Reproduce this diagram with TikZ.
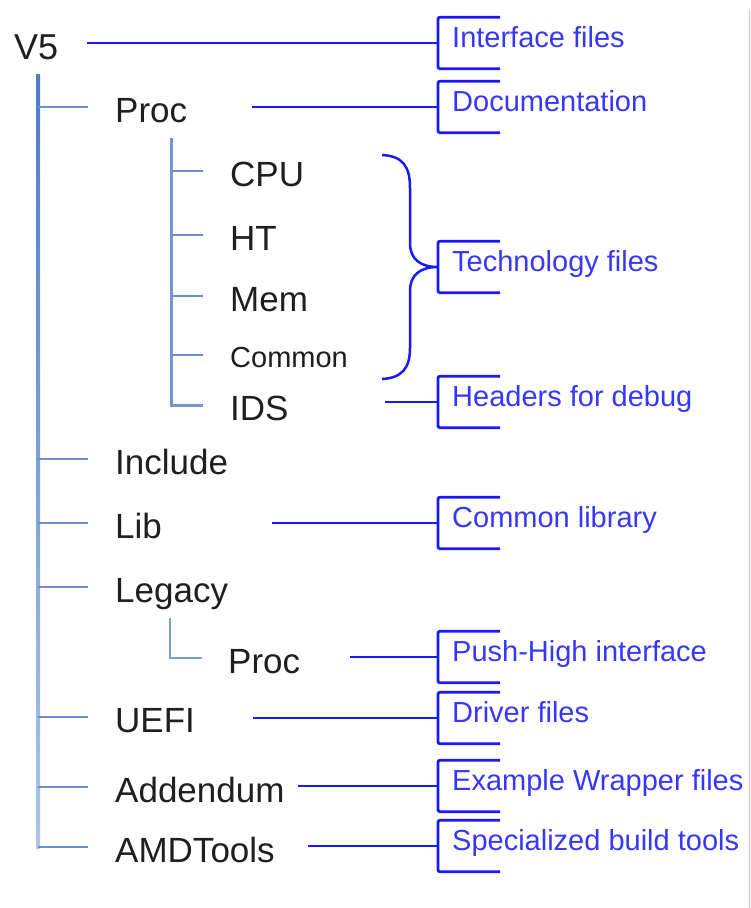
\documentclass[tikz,border=0pt]{standalone}
\usepackage{fontspec}
\setmainfont{Liberation Sans}

\definecolor{treeblue}{RGB}{78,124,200}
\definecolor{linkblue}{RGB}{25,25,255}
\definecolor{notetext}{RGB}{55,55,250}

\tikzset{
  item/.style={anchor=west, inner sep=0pt, text height=31pt, text depth=0pt,
    text=black!88, font=\fontsize{35}{40}\selectfont},
  small item/.style={item, text height=25pt, font=\fontsize{29}{34}\selectfont},
  note/.style={anchor=west, inner xsep=14pt, inner ysep=0pt, text height=30pt,
    text depth=21pt, text=notetext, font=\fontsize{29}{34}\selectfont},
  twig/.style={treeblue!85, line width=2.5pt},
  link/.style={linkblue, line width=2.5pt},
  bracket/.style={linkblue, line width=2.8pt, rounded corners=2pt},
}

\begin{document}
\begin{tikzpicture}[x=1pt,y=-1pt]
\useasboundingbox (0,0) rectangle (751,908);
%% frame edge
\draw[gray!45, line width=1pt] (749.5,10) -- (749.5,908);

%% folders
\node[item, text height=32pt, font=\fontsize{36}{40}\selectfont] (v5) at (14,43) {V5};
\node[item] (proc) at (115,107) {Proc};
\node[item] (cpu) at (230,171) {CPU};
\node[item] (ht) at (230,235) {HT};
\node[item] (mem) at (230,296) {Mem};
\node[small item] (common) at (230,355) {Common};
\node[item] (ids) at (230,405) {IDS};
\node[item] (include) at (115,459) {Include};
\node[item] (lib) at (115,523) {Lib};
\node[item] (legacy) at (115,587) {Legacy};
\node[item] (lproc) at (228,658) {Proc};
\node[item] (uefi) at (115,717) {UEFI};
\node[item] (addendum) at (115,787) {Addendum};
\node[item] (amdtools) at (115,847) {AMDTools};

%% tree lines
\coordinate (trunk) at (38,74);
\coordinate (sub) at (171,138);
\coordinate (lsub) at (170,618);
\shade[top color=treeblue, bottom color=treeblue!45] (36,74) rectangle (40,848);
\foreach \n in {proc,include,lib,legacy,uefi,addendum,amdtools}
  \draw[twig] (trunk |- \n.west) -- ++(50pt,0);
\draw[twig, line width=3pt, treeblue!80] (sub) -- (sub |- ids.west) -- ++(32pt,0);
\foreach \n in {cpu,ht,mem,common}
  \draw[twig] (sub |- \n.west) -- ++(32pt,0);
\draw[twig, treeblue!75] (lsub) -- (lsub |- lproc.west) -- ++(32pt,0);

%% notes
\node[note] (ifc) at (438,43) {Interface files};
\node[note] (doc) at (438,107) {Documentation};
\node[note] (tech) at (438,267) {Technology files};
\node[note] (hdr) at (438,402) {Headers for debug};
\node[note] (clib) at (438,523) {Common library};
\node[note] (push) at (438,657) {Push-High interface};
\node[note] (drv) at (438,718) {Driver files};
\node[note] (wrap) at (438,786) {Example Wrapper files};
\node[note] (spec) at (438,846) {Specialized build tools};

\foreach \n in {ifc,doc,tech,hdr,clib,push,drv,wrap,spec}
  \draw[bracket] ([xshift=62pt]\n.north west) -| (\n.south west) -- ++(62pt,0);

%% links
\foreach \a/\b/\s in {v5/ifc/29, proc/doc/65, ids/hdr/96, lib/clib/110,
    lproc/push/50, uefi/drv/58, addendum/wrap/13, amdtools/spec/33}
  \draw[link] ([xshift=\s pt]\a.east |- \b.west) -- (\b.west);

% brace over the technology folders
\draw[link] (382,155) .. controls (404,156) and (410,168) .. (410,188)
  -- (410,243) .. controls (410,259) and (420,267) .. (tech.west)
  .. controls (420,267) and (410,275) .. (410,291)
  -- (410,348) .. controls (410,368) and (402,378) .. (382,379);
\end{tikzpicture}
\end{document}
